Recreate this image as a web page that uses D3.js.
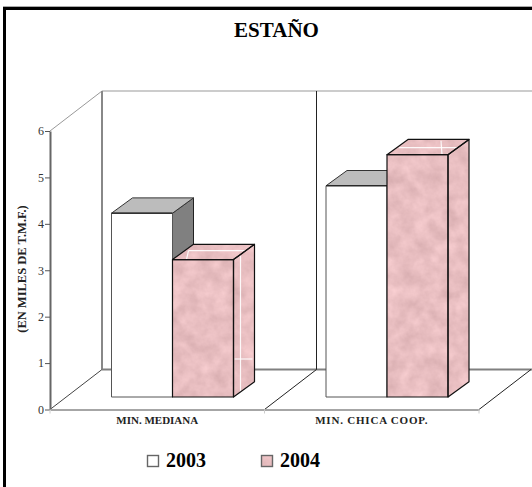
<!DOCTYPE html>
<html>
<head>
<meta charset="utf-8">
<script src="https://cdn.jsdelivr.net/npm/d3@7"></script>
<style>
  html, body { margin: 0; padding: 0; background: #fff; }
  svg { display: block; }
  text { font-family: "Liberation Serif", serif; }
</style>
</head>
<body>
<div id="chart"></div>
<script>
// data
const categories = ["MIN. MEDIANA", "MIN. CHICA COOP."];
const seriesNames = ["2003", "2004"];
const values2003 = [3.96, 4.55];
const values2004 = [2.96, 5.22];
const yTicks = [0, 1, 2, 3, 4, 5, 6];

const width = 532, height = 487;

const svg = d3.select("#chart").append("svg")
  .attr("width", width)
  .attr("height", height);

// marble look for the 2004 bars
const defs = svg.append("defs");
const marble = defs.append("filter")
  .attr("id", "marble")
  .attr("filterUnits", "userSpaceOnUse")
  .attr("color-interpolation-filters", "sRGB")
  .attr("x", 0).attr("y", 0)
  .attr("width", width).attr("height", height);
marble.append("feTurbulence")
  .attr("type", "fractalNoise")
  .attr("baseFrequency", 0.07)
  .attr("numOctaves", 4)
  .attr("seed", 7)
  .attr("result", "noise");
marble.append("feColorMatrix")
  .attr("in", "noise")
  .attr("type", "matrix")
  .attr("values", "0.16 0 0 0 0.83  0.16 0 0 0 0.665  0.16 0 0 0 0.675  0 0 0 0 1")
  .attr("result", "tint");
marble.append("feComposite")
  .attr("in", "tint")
  .attr("in2", "SourceGraphic")
  .attr("operator", "in");

// frame, only left and top
svg.append("line").attr("x1", 4.5).attr("x2", 4.5).attr("y1", 8).attr("y2", height)
  .attr("stroke", "#000").attr("stroke-width", 3);
svg.append("line").attr("x1", 3).attr("x2", width).attr("y1", 8.5).attr("y2", 8.5)
  .attr("stroke", "#000").attr("stroke-width", 3);
svg.append("line").attr("x1", 3).attr("x2", width).attr("y1", 6.5).attr("y2", 6.5)
  .attr("stroke", "#aaa").attr("stroke-width", 1);

// scales
const x0 = d3.scaleBand().domain(categories).range([50, 479]);
const x1 = d3.scaleBand().domain(seriesNames).range([61.5, 183.5]);
const y = d3.scaleLinear().domain([0, 6]).range([409.5, 131]);

// 3d offsets
const wallDx = 52, wallDy = -40;
const barDx = 21, barDy = -15.3;
const floorLift = 12.5;

const right = x0.range()[1], left = x0.range()[0];
const mid = x0(categories[1]);

// walls
const walls = svg.append("g").attr("class", "walls").attr("fill", "none");
function wallLine(x1, y1, x2, y2, color, w) {
  walls.append("line").attr("x1", x1).attr("y1", y1).attr("x2", x2).attr("y2", y2)
    .attr("stroke", color).attr("stroke-width", w);
}
wallLine(left + wallDx, y(6) + wallDy, width, y(6) + wallDy, "#999", 1);
wallLine(left, y(6), left + wallDx, y(6) + wallDy, "#999", 1);
wallLine(left + wallDx, y(6) + wallDy, left + wallDx, y(0) + wallDy, "#888", 2);
wallLine(left + wallDx, y(0) + wallDy, width, y(0) + wallDy, "#808080", 2);
wallLine(left, y(0), left + wallDx, y(0) + wallDy, "#444", 1);
wallLine(mid + wallDx, y(6) + wallDy, mid + wallDx, y(0) + wallDy, "#222", 1);
wallLine(mid, y(0), mid + wallDx, y(0) + wallDy, "#222", 1);
wallLine(right, y(0), right + wallDx, y(0) + wallDy, "#222", 1);

// axes
const yAxis = d3.axisLeft(y).tickValues(yTicks).tickFormat(d3.format("d"))
  .tickSize(5).tickPadding(1).tickSizeOuter(0);
const yG = svg.append("g").attr("transform", `translate(${left},0)`).call(yAxis);
yG.select(".domain").attr("stroke", "#666").attr("stroke-width", 2);
yG.selectAll(".tick line").attr("stroke", "#555");
yG.selectAll("text")
  .style("font-family", '"Liberation Serif", serif')
  .style("font-size", "12px")
  .attr("fill", "#333");

const xAxis = d3.axisBottom(x0).tickSize(0).tickPadding(7).tickSizeOuter(0);
const xG = svg.append("g").attr("transform", `translate(0,${y(0)})`).call(xAxis);
xG.select(".domain").attr("stroke", "#a6a6a6").attr("stroke-width", 2);
xG.selectAll("text")
  .style("font-family", '"Liberation Serif", serif')
  .style("font-size", "11px")
  .style("font-weight", "bold")
  .attr("fill", "#222");
xG.selectAll(".tick").filter(d => d === categories[1]).select("text")
  .style("letter-spacing", "0.8px");

// little marks at the category edges
svg.append("g").selectAll("line")
  .data([left, mid, right])
  .join("line")
  .attr("x1", d => d).attr("x2", d => d)
  .attr("y1", y(0)).attr("y2", y(0) + 4)
  .attr("stroke", "#ccc");

// bars
function facePoints(px, w, top, base) {
  return {
    front: [[px, top], [px + w, top], [px + w, base], [px, base]],
    roof: [[px, top], [px + barDx, top + barDy], [px + w + barDx, top + barDy], [px + w, top]],
    side: [[px + w, top], [px + w + barDx, top + barDy], [px + w + barDx, base + barDy], [px + w, base]]
  };
}
const pts = p => p.map(d => d.join(",")).join(" ");

const barData = [];
categories.forEach((c, i) => {
  barData.push({ cat: c, series: "2003", value: values2003[i] });
  barData.push({ cat: c, series: "2004", value: values2004[i] });
});

const bars = svg.append("g").attr("class", "bars");
barData.forEach(d => {
  const px = x0(d.cat) + x1(d.series);
  const w = x1.bandwidth();
  const base = y(0) - floorLift;
  const top = base - (y(0) - y(d.value));
  const f = facePoints(px, w, top, base);
  const g = bars.append("g");

  if (d.series === "2003") {
    g.append("polygon").attr("points", pts(f.side)).attr("fill", "#808080").attr("stroke", "#222").attr("stroke-width", 1);
    g.append("polygon").attr("points", pts(f.roof)).attr("fill", "#bcbcbc").attr("stroke", "#333").attr("stroke-width", 1);
    g.append("polygon").attr("points", pts(f.front)).attr("fill", "#fff").attr("stroke", "#555").attr("stroke-width", 1);
    g.append("line").attr("x1", px).attr("x2", px + w).attr("y1", top).attr("y2", top)
      .attr("stroke", "#111").attr("stroke-width", 1);
  } else {
    [f.side, f.roof, f.front].forEach(face => {
      g.append("polygon").attr("points", pts(face)).attr("fill", "#000").attr("filter", "url(#marble)");
    });
    // white seams of the texture
    const seams = d.cat === categories[0]
      ? [[px + 16, top - 9, px + w + 13, top - 9], [px + 16, top - 9, px + 14, top], [px + w + 7, top - 4, px + w + 7, base - 5], [px + w + 1, base - 38, px + w + 19, base - 38]]
      : [[px + 12, top - 7, px + w + 9, top - 7], [px + 54, top - 14, px + 55, top]];
    g.selectAll("line.seam").data(seams).join("line")
      .attr("class", "seam")
      .attr("x1", s => s[0]).attr("y1", s => s[1]).attr("x2", s => s[2]).attr("y2", s => s[3])
      .attr("stroke", "#fff").attr("stroke-opacity", 0.9).attr("stroke-width", 1.2);
    [f.side, f.roof, f.front].forEach(face => {
      g.append("polygon").attr("points", pts(face)).attr("fill", "none")
        .attr("stroke", "#111").attr("stroke-width", 1.2).attr("stroke-linejoin", "round");
    });
  }
});

// title and y label
svg.append("text").attr("x", 276.5).attr("y", 37)
  .attr("text-anchor", "middle")
  .style("font-size", "21px").style("font-weight", "bold")
  .text("ESTAÑO");

svg.append("text")
  .attr("transform", "translate(26,269) rotate(-90)")
  .attr("text-anchor", "middle")
  .style("font-size", "12.5px").style("font-weight", "bold")
  .attr("fill", "#222")
  .text("(EN MILES DE T.M.F.)");

// legend
const legendX = d3.scalePoint().domain(seriesNames).range([147, 261]);
const legend = svg.append("g").selectAll("g").data(seriesNames).join("g")
  .attr("transform", d => `translate(${legendX(d)},455)`);
legend.append("rect")
  .attr("x", 0.5).attr("y", 0.5)
  .attr("width", 11).attr("height", 11)
  .attr("fill", "#fff");
legend.filter(d => d === "2004").select("rect")
  .attr("fill", "#000").attr("filter", "url(#marble)");
legend.append("rect")
  .attr("x", 0.5).attr("y", 0.5)
  .attr("width", 11).attr("height", 11)
  .attr("fill", "none").attr("stroke", "#666").attr("stroke-width", 1.4);
legend.append("text")
  .attr("x", 19).attr("y", 12)
  .style("font-size", "20px").style("font-weight", "bold")
  .text(d => d);
</script>
</body>
</html>
